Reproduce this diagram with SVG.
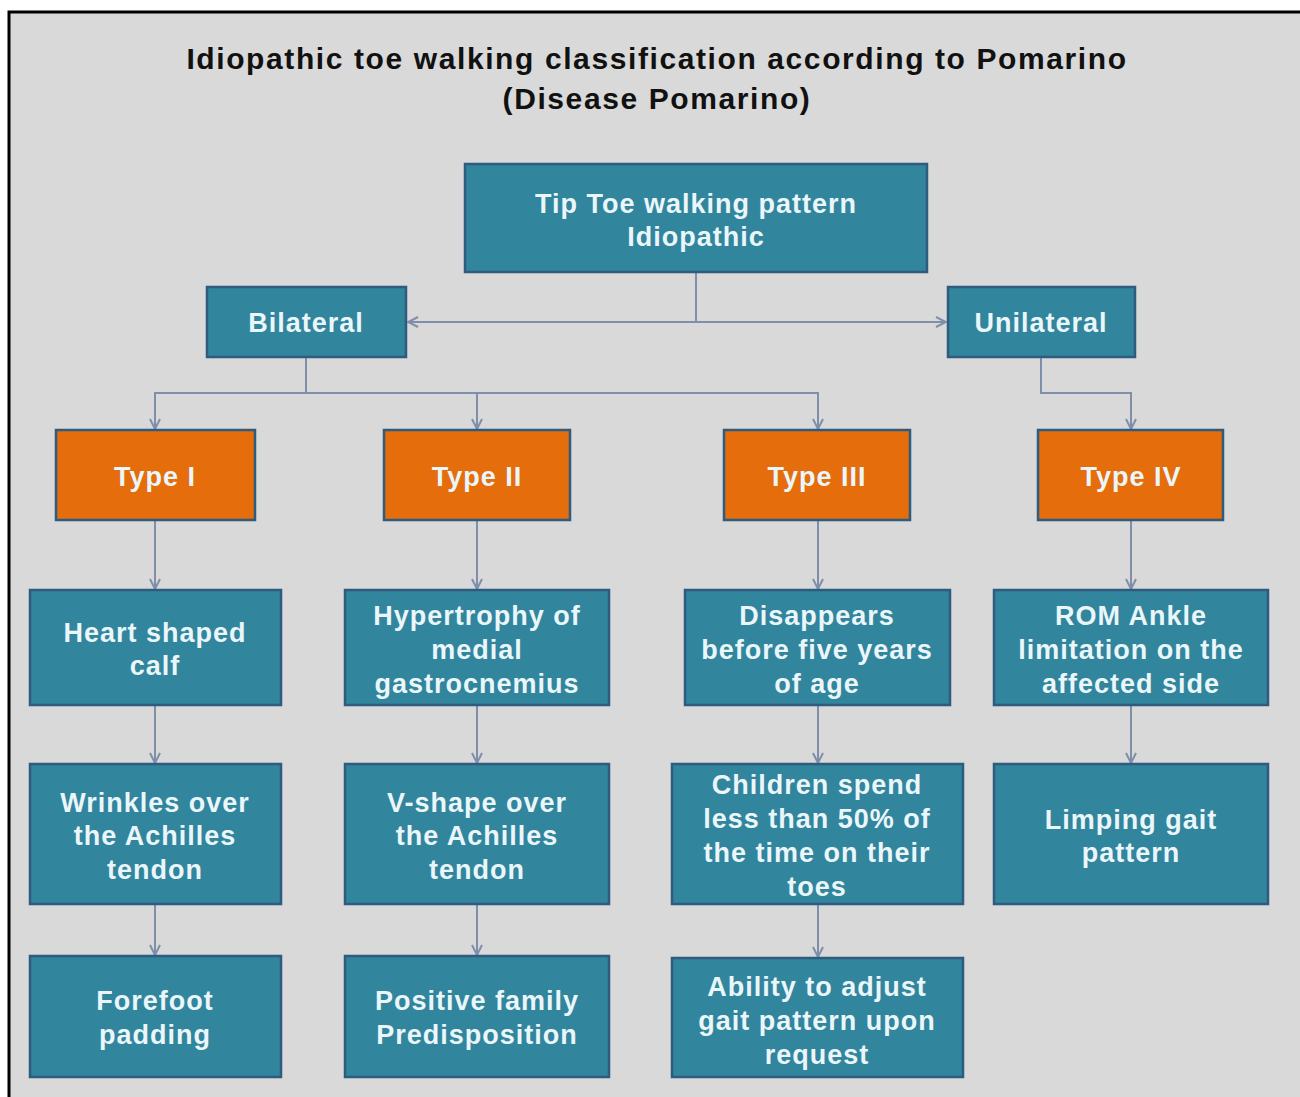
<svg xmlns="http://www.w3.org/2000/svg" width="1300" height="1097" viewBox="0 0 1300 1097">
<defs>
<style>
.bg{fill:#d9d9d9;stroke:#000;stroke-width:3}
.teal{fill:#31859c;stroke:#2f5b7f;stroke-width:2.5}
.orange{fill:#e56d0c;stroke:#2f5b7f;stroke-width:2.5}
.t{font-family:"Liberation Sans",Arial,sans-serif;font-weight:bold;font-size:27px;letter-spacing:1px;fill:#eaf6fa;text-anchor:middle}
.title{font-family:"Liberation Sans",Arial,sans-serif;font-weight:bold;font-size:30px;letter-spacing:1.6px;fill:#111;text-anchor:middle}
.c{fill:none;stroke:#7f8fab;stroke-width:2}
</style>
<marker id="ah" viewBox="0 0 12 12" refX="11" refY="6" markerWidth="12" markerHeight="12" markerUnits="userSpaceOnUse" orient="auto">
<path d="M1,1 L11,6 L1,11" fill="none" stroke="#7f8fab" stroke-width="2"/>
</marker>
</defs>
<rect width="1300" height="1097" fill="#ffffff"/>
<rect class="bg" x="9" y="12" width="1300" height="1100"/>
<g id="title">
<text class="title" x="657" y="69">Idiopathic toe walking classification according to Pomarino</text>
<text class="title" x="657" y="109">(Disease Pomarino)</text>
</g>
<g id="connectors">
<path class="c" d="M696,272 V322"/>
<path class="c" d="M696,322 H408" marker-end="url(#ah)"/>
<path class="c" d="M696,322 H946" marker-end="url(#ah)"/>
<path class="c" d="M306,357 V393 H155 V429" marker-end="url(#ah)"/>
<path class="c" d="M306,393 H477 V429" marker-end="url(#ah)"/>
<path class="c" d="M477,393 H818 V429" marker-end="url(#ah)"/>
<path class="c" d="M1041,357 V393 H1131 V429" marker-end="url(#ah)"/>
<path class="c" d="M155,520 V589" marker-end="url(#ah)"/>
<path class="c" d="M155,705 V763" marker-end="url(#ah)"/>
<path class="c" d="M155,904 V955" marker-end="url(#ah)"/>
<path class="c" d="M477,520 V589" marker-end="url(#ah)"/>
<path class="c" d="M477,705 V763" marker-end="url(#ah)"/>
<path class="c" d="M477,904 V955" marker-end="url(#ah)"/>
<path class="c" d="M818,520 V589" marker-end="url(#ah)"/>
<path class="c" d="M818,705 V763" marker-end="url(#ah)"/>
<path class="c" d="M818,904 V957" marker-end="url(#ah)"/>
<path class="c" d="M1131,520 V589" marker-end="url(#ah)"/>
<path class="c" d="M1131,705 V763" marker-end="url(#ah)"/>
</g>
<g id="root"><rect class="teal" x="465" y="164" width="462" height="108"/>
<text class="t" x="696" y="213">Tip Toe walking pattern</text><text class="t" x="696" y="246">Idiopathic</text></g>
<g id="bilateral"><rect class="teal" x="207" y="287" width="199" height="70"/><text class="t" x="306" y="332">Bilateral</text></g>
<g id="unilateral"><rect class="teal" x="948" y="287" width="187" height="70"/><text class="t" x="1041" y="332">Unilateral</text></g>
<g id="type1"><rect class="orange" x="56" y="430" width="199" height="90"/><text class="t" x="155" y="486">Type I</text></g>
<g id="type2"><rect class="orange" x="384" y="430" width="186" height="90"/><text class="t" x="477" y="486">Type II</text></g>
<g id="type3"><rect class="orange" x="724" y="430" width="186" height="90"/><text class="t" x="817" y="486">Type III</text></g>
<g id="type4"><rect class="orange" x="1038" y="430" width="185" height="90"/><text class="t" x="1131" y="486">Type IV</text></g>
<g id="heart"><rect class="teal" x="30" y="590" width="251" height="115"/>
<text class="t" x="155" y="642">Heart shaped</text><text class="t" x="155" y="675">calf</text></g>
<g id="hypertrophy"><rect class="teal" x="345" y="590" width="264" height="115"/>
<text class="t" x="477" y="625">Hypertrophy of</text><text class="t" x="477" y="659">medial</text><text class="t" x="477" y="693">gastrocnemius</text></g>
<g id="disappears"><rect class="teal" x="685" y="590" width="265" height="115"/>
<text class="t" x="817" y="625">Disappears</text><text class="t" x="817" y="659">before five years</text><text class="t" x="817" y="693">of age</text></g>
<g id="rom"><rect class="teal" x="994" y="590" width="274" height="115"/>
<text class="t" x="1131" y="625">ROM Ankle</text><text class="t" x="1131" y="659">limitation on the</text><text class="t" x="1131" y="693">affected side</text></g>
<g id="wrinkles"><rect class="teal" x="30" y="764" width="251" height="140"/>
<text class="t" x="155" y="812">Wrinkles over</text><text class="t" x="155" y="845">the Achilles</text><text class="t" x="155" y="879">tendon</text></g>
<g id="vshape"><rect class="teal" x="345" y="764" width="264" height="140"/>
<text class="t" x="477" y="812">V-shape over</text><text class="t" x="477" y="845">the Achilles</text><text class="t" x="477" y="879">tendon</text></g>
<g id="children"><rect class="teal" x="672" y="764" width="291" height="140"/>
<text class="t" x="817" y="794">Children spend</text><text class="t" x="817" y="828">less than 50% of</text><text class="t" x="817" y="862">the time on their</text><text class="t" x="817" y="896">toes</text></g>
<g id="limping"><rect class="teal" x="994" y="764" width="274" height="140"/>
<text class="t" x="1131" y="829">Limping gait</text><text class="t" x="1131" y="862">pattern</text></g>
<g id="forefoot"><rect class="teal" x="30" y="956" width="251" height="121"/>
<text class="t" x="155" y="1010">Forefoot</text><text class="t" x="155" y="1044">padding</text></g>
<g id="positive"><rect class="teal" x="345" y="956" width="264" height="121"/>
<text class="t" x="477" y="1010">Positive family</text><text class="t" x="477" y="1044">Predisposition</text></g>
<g id="ability"><rect class="teal" x="672" y="958" width="291" height="119"/>
<text class="t" x="817" y="996">Ability to adjust</text><text class="t" x="817" y="1030">gait pattern upon</text><text class="t" x="817" y="1064">request</text></g>
</svg>
